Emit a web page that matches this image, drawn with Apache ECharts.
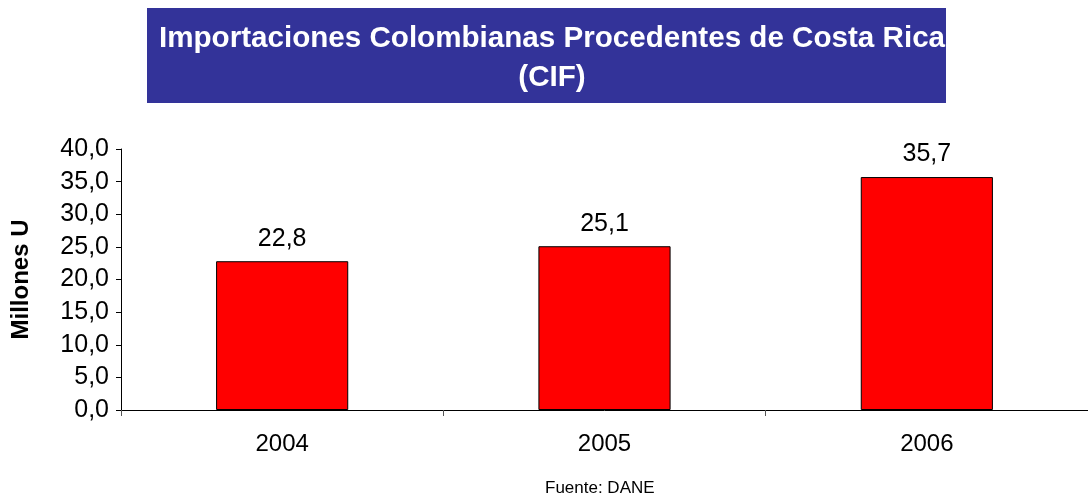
<!DOCTYPE html>
<html>
<head>
<meta charset="utf-8">
<script src="https://cdn.jsdelivr.net/npm/echarts@6/dist/echarts.min.js"></script>
<style>html,body{margin:0;padding:0;background:#fff}#c{width:1088px;height:497px}</style>
</head>
<body>
<div id="c"></div>
<script>
const categories = ['2004', '2005', '2006'];
const values = [22.8, 25.1, 35.7];
const titleLines = ['Importaciones Colombianas Procedentes de Costa Rica', '(CIF)'];
const yAxisName = 'Millones U';
const sourceNote = 'Fuente: DANE';

const fmt = v => Number(v).toFixed(1).replace('.', ',');
const FONT = '"Liberation Sans", Arial, sans-serif';

const chart = echarts.init(document.getElementById('c'));
chart.setOption({
  animation: false,
  backgroundColor: '#ffffff',
  graphic: [
    { type: 'rect', left: 147, top: 8, z: -1, shape: { width: 799, height: 95 }, style: { fill: '#333399' } }
  ],
  title: [
    {
      text: titleLines.join('\n'),
      left: 547, top: 14, textAlign: 'center',
      textStyle: { color: '#ffffff', fontFamily: FONT, fontWeight: 'bold', fontSize: 29.6, lineHeight: 39 }
    },
    {
      text: sourceNote,
      left: 540, top: 475,
      textStyle: { color: '#000', fontFamily: FONT, fontWeight: 'normal', fontSize: 17 }
    }
  ],
  grid: { left: 121, width: 970, top: 149, bottom: 87 },
  xAxis: {
    type: 'category',
    data: categories,
    axisLine: { lineStyle: { color: '#000', width: 1 } },
    axisTick: { show: true, length: 6, lineStyle: { color: '#555' } },
    axisLabel: { color: '#000', fontFamily: FONT, fontSize: 24, margin: 22 }
  },
  yAxis: {
    type: 'value',
    min: 0, max: 40, interval: 5,
    name: yAxisName,
    nameLocation: 'middle',
    nameGap: 88,
    nameTextStyle: { color: '#000', fontFamily: FONT, fontWeight: 'bold', fontSize: 24 },
    axisLine: { show: true, lineStyle: { color: '#000', width: 1 } },
    axisTick: { show: true, length: 5, lineStyle: { color: '#000' } },
    splitLine: { show: false },
    axisLabel: { color: '#000', fontFamily: FONT, fontSize: 25, margin: 12, formatter: fmt }
  },
  series: [{
    type: 'bar',
    data: values,
    barWidth: '41%',
    itemStyle: { color: '#ff0000', borderColor: '#000', borderWidth: 1 },
    label: {
      show: true, position: 'top', distance: 10,
      color: '#000', fontFamily: FONT, fontSize: 25,
      formatter: p => fmt(p.value)
    }
  }]
});
</script>
</body>
</html>
